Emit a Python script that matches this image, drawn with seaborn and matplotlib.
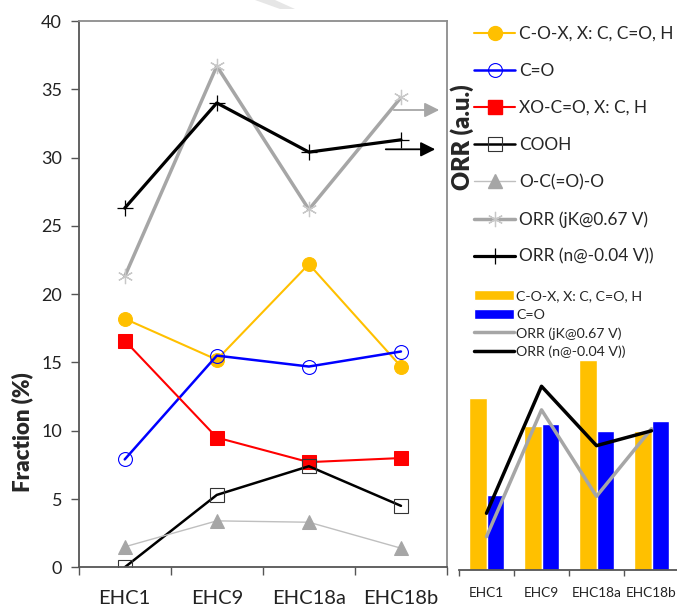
import numpy as np
import pandas as pd
import matplotlib
matplotlib.use("Agg")
import matplotlib.pyplot as plt
import seaborn as sns
from matplotlib.patches import Patch, Polygon
from matplotlib.lines import Line2D

# data
samples = ["EHC1", "EHC9", "EHC18a", "EHC18b"]
c_o_x = [18.2, 15.2, 22.2, 14.7]
c_eq_o = [7.9, 15.5, 14.7, 15.8]
xo_c_eq_o = [16.6, 9.5, 7.7, 8.0]
cooh = [0.0, 5.3, 7.4, 4.5]
o_c_o_o = [1.5, 3.4, 3.3, 1.4]
orr_jk = [21.3, 36.7, 26.2, 34.4]
orr_n = [26.3, 34.0, 30.4, 31.3]

lbl_cox = "C-O-X, X: C, C=O, H"
lbl_co = "C=O"
lbl_xo = "XO-C=O, X: C, H"
lbl_cooh = "COOH"
lbl_oco = "O-C(=O)-O"
lbl_jk = "ORR (jK@0.67 V)"
lbl_n = "ORR (n@-0.04 V))"

sns.set_style("white")
plt.rcParams["font.family"] = ["Lato", "DejaVu Sans"]

W, H = 677, 607
fig = plt.figure(figsize=(W / 100, H / 100), dpi=100)

def fx(px):
    return px / W

def fy(py):
    return 1 - py / H

# main chart
ax = fig.add_axes([fx(78.7), fy(567.3), fx(447 - 78.7), (567.3 - 21) / H])
pos = np.arange(len(samples))

series = [
    (c_o_x, lbl_cox, dict(color="#FFC000", marker="o", lw=1.5, ms=10, mfc="#FFC000", mec="#FFC000")),
    (c_eq_o, lbl_co, dict(color="#0000FF", marker="o", lw=1.8, ms=10, mfc="none", mec="#0000FF", mew=0.8)),
    (xo_c_eq_o, lbl_xo, dict(color="#FF0000", marker="s", lw=1.5, ms=10, mfc="#FF0000", mec="#FF0000")),
    (cooh, lbl_cooh, dict(color="black", marker="s", lw=1.8, ms=10, mfc="none", mec="#333333", mew=0.8)),
    (o_c_o_o, lbl_oco, dict(color="#BFBFBF", marker="^", lw=1.0, ms=10, mfc="#A6A6A6", mec="#A6A6A6")),
    (orr_jk, lbl_jk, dict(color="#A6A6A6", marker=(6, 2, 0), lw=2.5, ms=11, mec="#C8C8C8", mew=0.9)),
    (orr_n, lbl_n, dict(color="black", marker="+", lw=2.3, ms=11, mec="black", mew=0.9)),
]
handles = []
for vals, lbl, kw in series:
    sns.lineplot(x=pos, y=vals, ax=ax, sort=False, legend=False, **kw)
    handles.append(Line2D([], [], label=lbl, **kw))

ax.set_xlim(-0.5, 3.5)
ax.set_ylim(0, 40)
ax.set_yticks(range(0, 41, 5))
ax.set_xticks(pos)
ax.set_xticklabels(samples)
ax.set_xticks(np.arange(-0.5, 3.6, 1), minor=True)
ax.tick_params(axis="x", which="major", length=0, pad=16, labelsize=14.5, colors="#222222")
ax.tick_params(axis="x", which="minor", length=6, width=1, color="#555555", direction="out", bottom=True)
ax.tick_params(axis="y", length=6, width=1, color="#555555", direction="out", left=True,
               pad=6, labelsize=13, labelcolor="#222222")
for s in ["left", "bottom"]:
    ax.spines[s].set_color("#555555")
    ax.spines[s].set_linewidth(1.3)
for s in ["top", "right"]:
    ax.spines[s].set_color("#8C8C8C")
    ax.spines[s].set_linewidth(1.3)

fig.text(fx(22), fy(432), "Fraction (%)", rotation=90, ha="center", va="center",
         fontsize=16, fontweight="heavy")
fig.text(fx(462), fy(137), "ORR (a.u.)", rotation=90, ha="center", va="center",
         fontsize=17, fontweight="heavy")

# arrows toward the ORR label
ax.annotate("", xy=(fx(442), fy(110)), xytext=(fx(391), fy(110)), xycoords="figure fraction",
            textcoords="figure fraction",
            arrowprops=dict(arrowstyle="-|>", color="#A6A6A6", lw=1.3, mutation_scale=22))
ax.annotate("", xy=(fx(438), fy(149.3)), xytext=(fx(383), fy(149.3)), xycoords="figure fraction",
            textcoords="figure fraction",
            arrowprops=dict(arrowstyle="-|>", color="black", lw=1.3, mutation_scale=22))

fig.legend(handles=handles, loc="upper left", bbox_to_anchor=(fx(474), fy(26)),
           frameon=False, fontsize=12.4, handlelength=2.4, handletextpad=0.2,
           labelspacing=1.22, borderpad=0, borderaxespad=0)

# inset bar chart
ax_in = fig.add_axes([fx(459), fy(570), fx(220), 285 / H])
bars = pd.DataFrame({
    "sample": samples * 2,
    "group": [lbl_cox] * 4 + [lbl_co] * 4,
    "value": c_o_x + c_eq_o,
})
sns.barplot(data=bars, x="sample", y="value", hue="group", ax=ax_in,
            palette=["#FFC000", "#0000FF"], width=0.62, saturation=1, legend=False)
ax_in.set_xlim(-0.5, 3.5)
ax_in.set_ylim(0, 285 / 9.45)
ax_in.set_xlabel("")
ax_in.set_ylabel("")
ax_in.set_yticks([])
ax_in.set_xticks(np.arange(-0.5, 3.6, 1), minor=True)
ax_in.tick_params(axis="x", which="major", length=0, pad=12, labelsize=9.8, colors="#222222")
ax_in.tick_params(axis="x", which="minor", length=4, width=1, color="#555555", direction="out", bottom=True)
for s in ["left", "top", "right"]:
    ax_in.spines[s].set_visible(False)
ax_in.spines["bottom"].set_color("#555555")
ax_in.spines["bottom"].set_linewidth(1.3)

ax_jk = ax_in.twinx()
sns.lineplot(x=pos, y=orr_jk, ax=ax_jk, color="#A6A6A6", lw=2.5, sort=False, legend=False)
ax_jk.set_ylim(17.25, 51.86)
ax_n = ax_in.twinx()
sns.lineplot(x=pos, y=orr_n, ax=ax_n, color="black", lw=2.5, sort=False, legend=False)
ax_n.set_ylim(22.86, 40.14)
for a in (ax_jk, ax_n):
    a.set_xlim(-0.5, 3.5)
    a.set_yticks([])
    a.set_ylabel("")
    for s in a.spines.values():
        s.set_visible(False)

in_handles = [
    Patch(facecolor="#FFC000", label=lbl_cox),
    Patch(facecolor="#0000FF", label=lbl_co),
    Line2D([], [], color="#A6A6A6", lw=2.5, label=lbl_jk),
    Line2D([], [], color="black", lw=2.5, label=lbl_n),
]
fig.legend(handles=in_handles, loc="upper left", bbox_to_anchor=(fx(474), fy(290)),
           frameon=False, fontsize=10.2, handlelength=2.8, handleheight=0.75,
           handletextpad=0.2, labelspacing=0.45, borderpad=0, borderaxespad=0)

# faint watermark streak at the top edge
fig.patches.append(Polygon([(fx(255), fy(0)), (fx(275), fy(0)), (fx(295), fy(9)), (fx(280), fy(9))],
                           closed=True, transform=fig.transFigure, facecolor="#E6E6E6",
                           edgecolor="none", zorder=0))

fig.savefig("out.png", dpi=100)
